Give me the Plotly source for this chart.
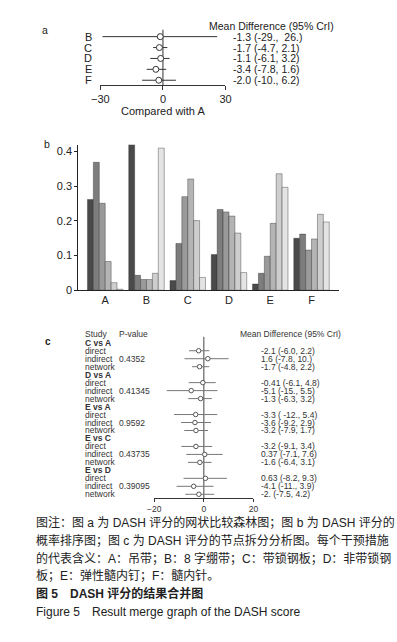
import plotly.graph_objects as go

W, H = 397, 642
FONT = "Liberation Sans, Arial, Noto Sans CJK SC, sans-serif"

# ---------------- Panel a data ----------------
a_labels = ["B", "C", "D", "E", "F"]
a_mean = [-1.3, -1.7, -1.1, -3.4, -2.0]
a_lo = [-29, -4.7, -6.1, -7.8, -10]
a_hi = [26, 2.1, 3.2, 1.6, 6.2]
a_text = ["-1.3 (-29.,  26.)", "-1.7 (-4.7, 2.1)", "-1.1 (-6.1, 3.2)",
          "-3.4 (-7.8, 1.6)", "-2.0 (-10., 6.2)"]
a_ticks = [-30, 0, 30]

# ---------------- Panel b data ----------------
b_cats = ["A", "B", "C", "D", "E", "F"]
b_ranks = [  # probability of each rank (1..6) for each treatment A..F
    [0.262, 0.369, 0.251, 0.083, 0.022, 0.003],
    [0.427, 0.043, 0.031, 0.031, 0.049, 0.410],
    [0.028, 0.135, 0.270, 0.321, 0.201, 0.037],
    [0.103, 0.233, 0.226, 0.214, 0.165, 0.051],
    [0.018, 0.049, 0.098, 0.193, 0.336, 0.297],
    [0.150, 0.162, 0.116, 0.148, 0.219, 0.197],
]
b_colors = ["#4a4a4a", "#7d7d7d", "#9a9a9a", "#b4b4b4", "#cecece", "#e4e4e4"]
b_ticks = [0, 0.1, 0.2, 0.3, 0.4]
b_ticktext = ["0", "0.1", "0.2", "0.3", "0.4"]

# ---------------- Panel c data ----------------
c_groups = ["C vs A", "D vs A", "E vs A", "E vs C", "E vs D"]
c_types = ["direct", "indirect", "network"]
c_pvalues = ["0.4352", "0.41345", "0.9592", "0.43735", "0.39095"]
c_mean = [[-2.1, 1.6, -1.7], [-0.41, -5.1, -1.3], [-3.3, -3.6, -3.2],
          [-3.2, 0.37, -1.6], [0.63, -4.1, -2.0]]
c_lo = [[-6.0, -7.8, -4.8], [-6.1, -15, -6.3], [-12, -9.2, -7.9],
        [-9.1, -7.1, -6.4], [-8.2, -11, -7.5]]
c_hi = [[2.2, 10, 2.2], [4.8, 5.5, 3.2], [5.4, 2.9, 1.7],
        [3.4, 7.6, 3.1], [9.3, 3.9, 4.2]]
c_text = [["-2.1 (-6.0, 2.2)", "1.6 (-7.8, 10.)", "-1.7 (-4.8, 2.2)"],
          ["-0.41 (-6.1, 4.8)", "-5.1 (-15., 5.5)", "-1.3 (-6.3, 3.2)"],
          ["-3.3 ( -12., 5.4)", "-3.6 (-9.2, 2.9)", "-3.2 (-7.9, 1.7)"],
          ["-3.2 (-9.1, 3.4)", "0.37 (-7.1, 7.6)", "-1.6 (-6.4, 3.1)"],
          ["0.63 (-8.2, 9.3)", "-4.1 (-11., 3.9)", "-2. (-7.5, 4.2)"]]
c_ticks = [-20, 0, 20]

caption_lines = [
    "图注：图 a 为 DASH 评分的网状比较森林图；图 b 为 DASH 评分的",
    "概率排序图；图 c 为 DASH 评分的节点拆分分析图。每个干预措施",
    "的代表含义：A：吊带；B：8 字绷带；C：带锁钢板；D：非带锁钢",
    "板；E：弹性髓内钉；F：髓内针。",
]
fig_title_cn = "图 5\u3000DASH 评分的结果合并图"
fig_title_en = "Figure 5\u3000Result merge graph of the DASH score"


def px(x):
    return x / W


def py(y):
    return 1 - y / H


fig = go.Figure()
ann = []

# ================= Panel a =================
a_y0, a_dy = 37, 11  # pixel of first row, row spacing
a_top, a_bot = 20, 86
a_rng = [(a_bot - a_y0) / a_dy, (a_top - a_y0) / a_dy]
rows_a = list(range(len(a_labels)))
lx, ly = [], []
for i in rows_a:
    lx += [a_lo[i], a_hi[i], None]
    ly += [i, i, None]
fig.add_trace(go.Scatter(x=[0, 0], y=[-0.64, a_rng[0]], mode="lines",
                         line=dict(color="#333", width=1), xaxis="x", yaxis="y",
                         hoverinfo="skip", showlegend=False))
fig.add_trace(go.Scatter(x=lx, y=ly, mode="lines", line=dict(color="#333", width=1),
                         xaxis="x", yaxis="y", showlegend=False))
fig.add_trace(go.Scatter(x=a_mean, y=rows_a, mode="markers",
                         marker=dict(symbol="circle", size=6, color="white",
                                     line=dict(color="#333", width=1)),
                         xaxis="x", yaxis="y", showlegend=False))
for i in rows_a:
    ann.append(dict(x=px(88), xref="paper", y=i, yref="y", text=a_labels[i],
                    xanchor="right", yanchor="middle", showarrow=False,
                    font=dict(size=11, color="#222")))
    ann.append(dict(x=px(231), xref="paper", y=i, yref="y", text=a_text[i],
                    xanchor="left", yanchor="middle", showarrow=False,
                    font=dict(size=10.5, color="#222")))
ann.append(dict(x=px(206), xref="paper", y=-1, yref="y",
                text="Mean Difference (95% CrI)", xanchor="left", yanchor="middle",
                showarrow=False, font=dict(size=10.5, color="#222")))
ann.append(dict(x=px(160), xref="paper", y=py(112), yref="paper",
                text="Compared with A", xanchor="center", yanchor="middle",
                showarrow=False, font=dict(size=11, color="#222")))
ann.append(dict(x=px(37), xref="paper", y=py(30), yref="paper", text="a",
                xanchor="center", yanchor="middle", showarrow=False,
                font=dict(size=10.5, color="#222")))

# ================= Panel b =================
for r in range(6):
    fig.add_trace(go.Bar(x=list(range(len(b_cats))), y=[b_ranks[t][r] for t in range(len(b_cats))],
                         marker=dict(color=b_colors[r], line=dict(color="rgba(40,40,40,0.55)", width=0.7)),
                         xaxis="x2", yaxis="y2", showlegend=False, name=f"Rank {r+1}"))
ann.append(dict(x=px(39), xref="paper", y=py(145), yref="paper", text="b",
                xanchor="center", yanchor="middle", showarrow=False,
                font=dict(size=10.5, color="#222")))

# ================= Panel c =================
c_y0, c_dy = 346, 8.05
c_top, c_bot = 333, 503
c_rng = [(c_bot - c_y0) / c_dy, (c_top - c_y0) / c_dy]
cx, cy, mx, my = [], [], [], []
for g in range(len(c_groups)):
    for k in range(3):
        row = 4 * g + 1 + k
        cx += [c_lo[g][k], c_hi[g][k], None]
        cy += [row, row, None]
        mx.append(c_mean[g][k])
        my.append(row)
fig.add_trace(go.Scatter(x=[0, 0], y=[-0.75, c_rng[0]], mode="lines",
                         line=dict(color="#444", width=1), xaxis="x3", yaxis="y3",
                         hoverinfo="skip", showlegend=False))
fig.add_trace(go.Scatter(x=cx, y=cy, mode="lines", line=dict(color="#777", width=1),
                         xaxis="x3", yaxis="y3", showlegend=False))
fig.add_trace(go.Scatter(x=mx, y=my, mode="markers",
                         marker=dict(symbol="circle", size=4.5, color="white",
                                     line=dict(color="#555", width=1)),
                         xaxis="x3", yaxis="y3", showlegend=False))
cf = dict(size=8.5, color="#333")
for g in range(len(c_groups)):
    ann.append(dict(x=px(77), xref="paper", y=4 * g, yref="y3",
                    text="<b>" + c_groups[g] + "</b>", xanchor="left", yanchor="middle",
                    showarrow=False, font=cf))
    for k in range(3):
        row = 4 * g + 1 + k
        ann.append(dict(x=px(77), xref="paper", y=row, yref="y3", text=c_types[k],
                        xanchor="left", yanchor="middle", showarrow=False, font=cf))
        ann.append(dict(x=px(260), xref="paper", y=row, yref="y3", text=c_text[g][k],
                        xanchor="left", yanchor="middle", showarrow=False, font=cf))
    ann.append(dict(x=px(112), xref="paper", y=4 * g + 2, yref="y3", text=c_pvalues[g],
                    xanchor="left", yanchor="middle", showarrow=False, font=cf))
hdr_row = (337 - c_y0) / c_dy
for txt, xx in [("Study", 77), ("P-value", 112), ("Mean Difference (95% CrI)", 238)]:
    ann.append(dict(x=px(xx), xref="paper", y=hdr_row, yref="y3", text=txt,
                    xanchor="left", yanchor="middle", showarrow=False, font=cf))
ann.append(dict(x=px(41), xref="paper", y=py(345), yref="paper", text="<b>c</b>",
                xanchor="center", yanchor="middle", showarrow=False,
                font=dict(size=10, color="#222")))

# ================= Caption =================
cap_y = [527, 546, 564, 581]
for t, yy in zip(caption_lines, cap_y):
    ann.append(dict(x=px(26), xref="paper", y=py(yy), yref="paper", text=t,
                    xanchor="left", yanchor="middle", showarrow=False,
                    font=dict(size=12, color="#222")))
ann.append(dict(x=px(26), xref="paper", y=py(599), yref="paper",
                text="<b>" + fig_title_cn + "</b>", xanchor="left", yanchor="middle",
                showarrow=False, font=dict(size=12, color="#222")))
ann.append(dict(x=px(26), xref="paper", y=py(618), yref="paper", text=fig_title_en,
                xanchor="left", yanchor="middle", showarrow=False,
                font=dict(size=12, color="#222")))

common_x = dict(showgrid=False, zeroline=False, showline=True, linecolor="#333",
                linewidth=1, ticks="outside", tickcolor="#333")

fig.update_layout(
    width=W, height=H, margin=dict(l=0, r=0, t=0, b=0),
    paper_bgcolor="white", plot_bgcolor="white",
    font=dict(family=FONT, color="#222"),
    showlegend=False, annotations=ann,
    barmode="group", bargap=0.14, bargroupgap=0,
    xaxis=dict(domain=[px(95), px(225)], range=[-30, 30], tickvals=a_ticks,
               ticklen=4, tickfont=dict(size=11), anchor="y", **common_x),
    yaxis=dict(domain=[py(a_bot), py(a_top)], range=a_rng, visible=False,
               anchor="x"),
    xaxis2=dict(domain=[px(72), px(343)], range=[-0.653, 5.667],
                tickvals=list(range(len(b_cats))), ticktext=b_cats,
                showgrid=False, zeroline=False, showline=True, linecolor="#222",
                linewidth=1, ticks="", tickfont=dict(size=11), anchor="y2"),
    yaxis2=dict(domain=[py(293), py(146)], range=[0, 0.42], tickvals=b_ticks,
                ticktext=b_ticktext, showgrid=False, zeroline=False, showline=True,
                linecolor="#222", linewidth=1, ticks="outside", ticklen=3,
                tickcolor="#222", tickfont=dict(size=11), anchor="x2"),
    xaxis3=dict(domain=[px(151), px(254)], range=[-20, 20], tickvals=c_ticks,
                ticklen=3, tickfont=dict(size=8.5, color="#333"), anchor="y3",
                **common_x),
    yaxis3=dict(domain=[py(c_bot), py(c_top)], range=c_rng, visible=False,
                anchor="x3"),
)

fig.write_html("out.html", config={"displayModeBar": False},
               post_script="document.body.style.margin='0';document.body.style.overflow='hidden';")
